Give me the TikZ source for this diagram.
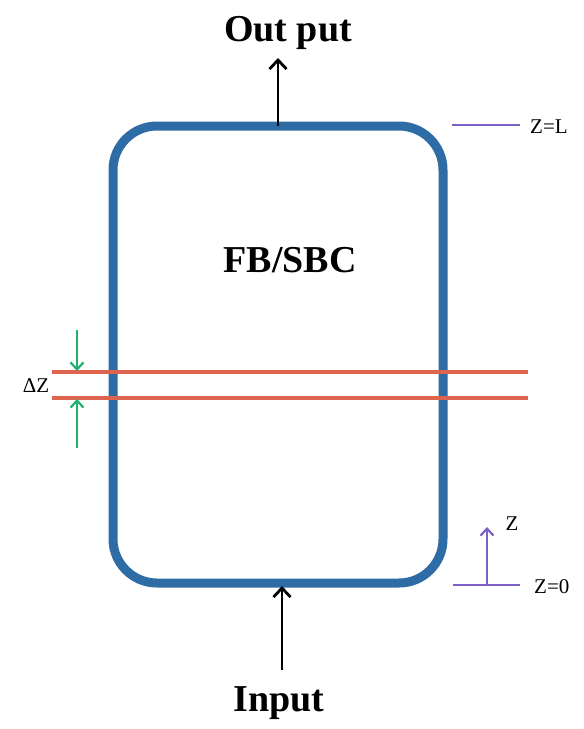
\documentclass[tikz,border=0pt]{standalone}
\usepackage{fontspec}
\setmainfont{Liberation Serif}
\usetikzlibrary{arrows.meta}
\definecolor{boxblue}{RGB}{46,108,165}
\definecolor{zred}{RGB}{222,100,80}
\definecolor{zgreen}{RGB}{30,178,110}
\definecolor{zpurple}{RGB}{125,95,200}
\begin{document}
\begin{tikzpicture}[x=1pt,y=-1pt,
  big/.style={font=\fontsize{38}{40}\selectfont\bfseries, inner sep=0pt},
  small/.style={font=\fontsize{21}{23}\selectfont, inner sep=0pt},
  blackarrow/.style={line width=2.8pt, -{Straight Barb[length=9pt,width=17pt,line width=2.8pt]}},
  greenarrow/.style={zgreen, line width=2.2pt, -{Straight Barb[length=7pt,width=13pt,line width=2.2pt]}},
  purplearrow/.style={zpurple, line width=2.2pt, -{Straight Barb[length=7pt,width=13pt,line width=2.2pt]}},
  slice/.style={zred, line width=3.4pt},
  zline/.style={zpurple, line width=2.4pt}]
\useasboundingbox (0,0) rectangle (584,729);
% box
\draw[boxblue, line width=9pt, rounded corners=44pt] (113,126) rectangle (443,583);
\coordinate (btop) at (278,126);
\coordinate (bbot) at (282,586);
% slice lines
\coordinate (s1l) at (52,372); \coordinate (s1r) at (528,372);
\coordinate (s2l) at (52,398); \coordinate (s2r) at (528,398);
\draw[slice] (s1l) -- (s1r);
\draw[slice] (s2l) -- (s2r);
% labels
\node[big] (out) at (288,33) {Out put};
\node[big] (in) at (279,703) {Input};
\node[big] (fb) at (290,260) {FB/SBC};
\coordinate (outtip) at (278,58);
\coordinate (intail) at (282,670);
\draw[blackarrow] (btop) -- (outtip);
\draw[blackarrow] (intail) -- (bbot);
% delta z
\node[small] (dz) at (36,386) {ΔZ};
\coordinate (g1t) at (77,330); \coordinate (g1h) at (77,371);
\coordinate (g2t) at (77,448); \coordinate (g2h) at (77,399);
\draw[greenarrow] (g1t) -- (g1h);
\draw[greenarrow] (g2t) -- (g2h);
% z markers
\coordinate (zl1) at (452,125); \coordinate (zl2) at (520,125);
\draw[zline] (zl1) -- (zl2);
\node[small, anchor=west] (zL) at (530,127) {Z=L};
\coordinate (z01) at (453,585); \coordinate (z02) at (520,585);
\draw[zline] (z01) -- (z02);
\node[small, anchor=west] (z0) at (534,587) {Z=0};
\coordinate (zab) at (487,585); \coordinate (zat) at (487,527);
\draw[purplearrow] (zab) -- (zat);
\node[small] (zz) at (512,524) {Z};
\end{tikzpicture}
\end{document}
